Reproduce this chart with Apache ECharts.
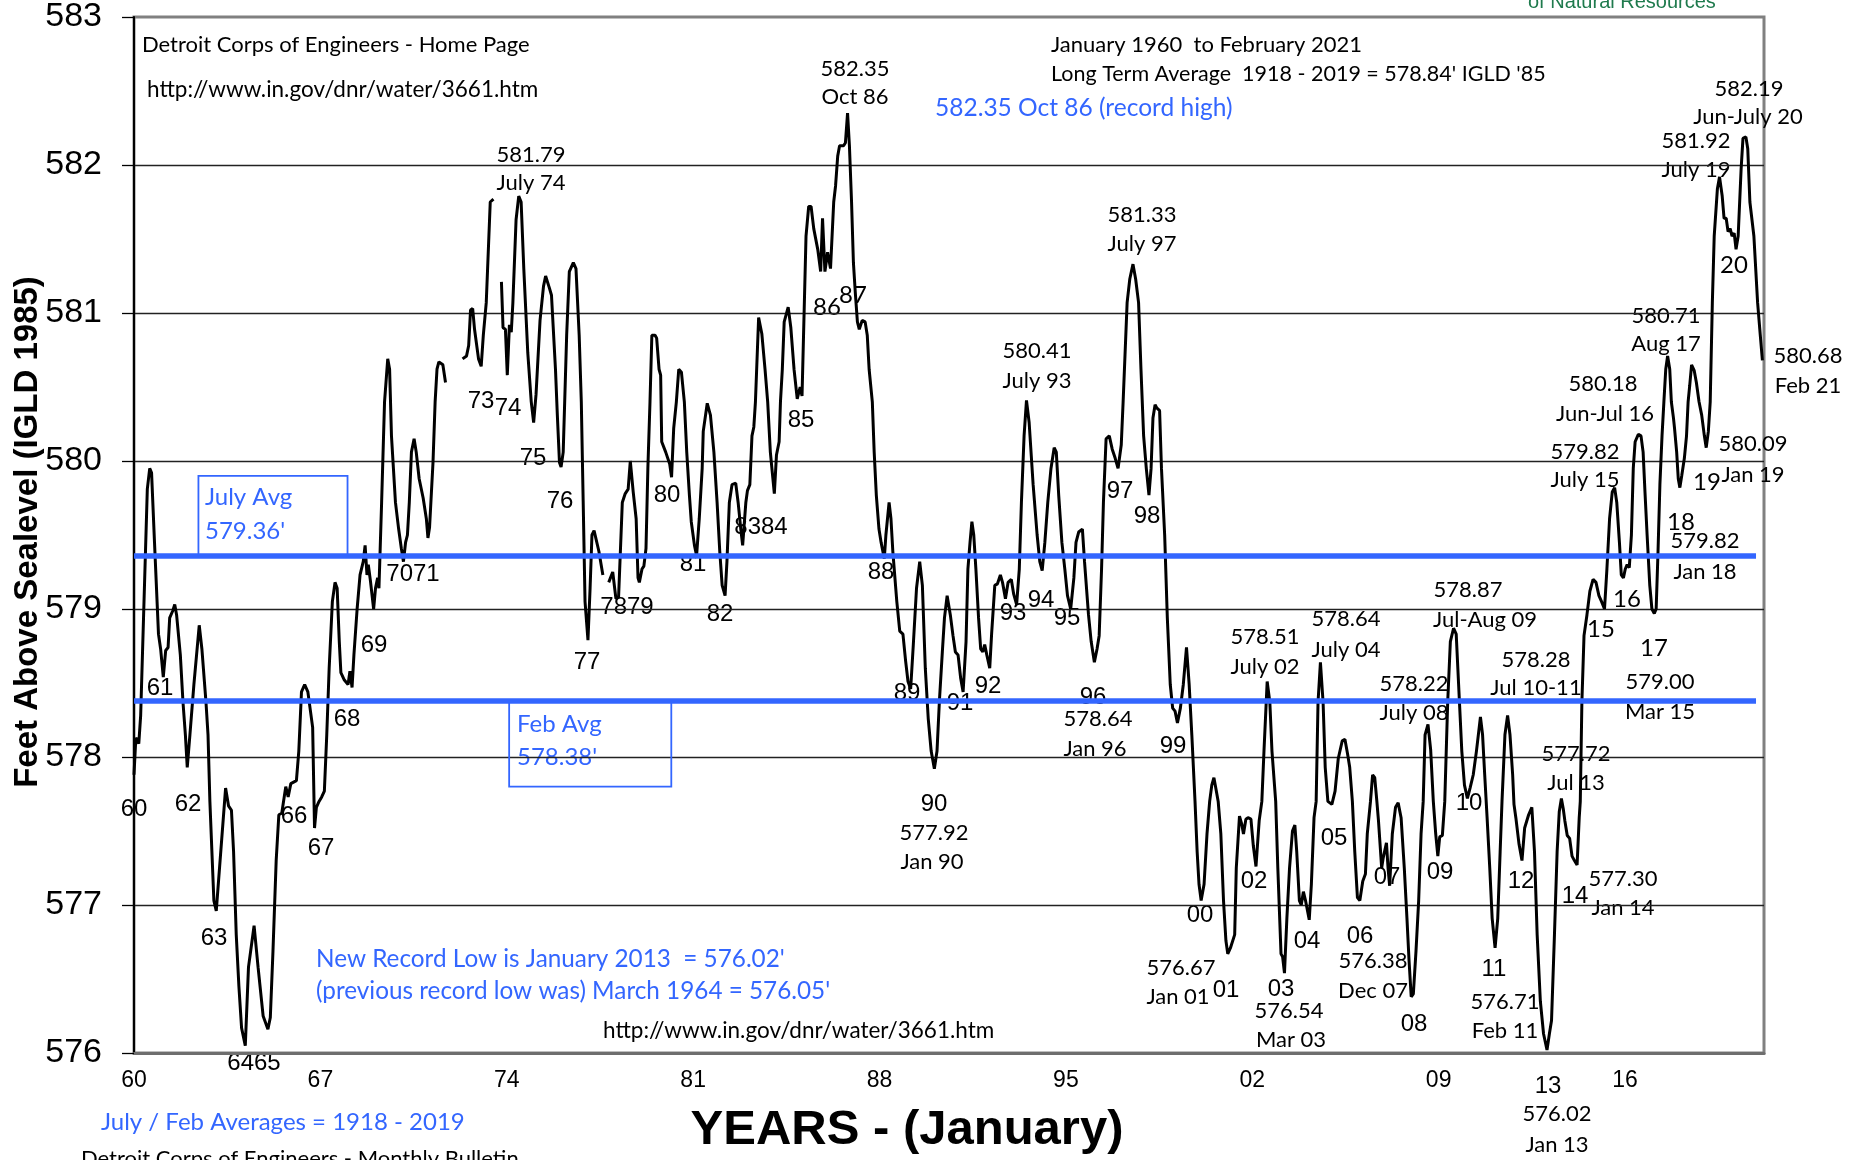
<!DOCTYPE html>
<html><head><meta charset="utf-8">
<script src="https://cdn.jsdelivr.net/npm/echarts@6/dist/echarts.min.js"></script>
<style>html,body{margin:0;padding:0;background:#fff}#c{width:1860px;height:1160px}</style>
</head><body><div id="c"></div>
<script>
// Lake level, feet above sea level (IGLD 1985); [decimal year, level], null = gap in record
const levels1960s = [
[1960.00,577.88],[1960.07,578.13],[1960.18,578.09],[1960.25,578.28],[1960.50,579.81],[1960.59,579.95],[1960.66,579.92],
[1960.77,579.45],[1960.92,578.83],[1961.00,578.73],[1961.10,578.54],[1961.19,578.72],[1961.28,578.74],[1961.34,578.94],
[1961.46,578.99],[1961.53,579.03],[1961.60,578.96],[1961.74,578.69],[1961.84,578.37],[1961.93,578.15],[1962.00,577.93],
[1962.10,578.15],[1962.25,578.49],[1962.45,578.89],[1962.55,578.73],[1962.70,578.38],[1962.78,578.15],[1962.85,577.70],
[1963.00,577.03],[1963.09,576.96],[1963.44,577.79],[1963.55,577.67],[1963.66,577.64],[1963.74,577.36],[1963.84,576.80],
[1963.94,576.45],[1964.04,576.17],[1964.18,576.05],[1964.30,576.58],[1964.51,576.86],[1964.66,576.58],[1964.85,576.25],
[1965.03,576.16],[1965.12,576.24],[1965.22,576.69],[1965.34,577.30],[1965.44,577.61],[1965.55,577.62],[1965.70,577.80],
[1965.79,577.73],[1965.89,577.82],[1965.96,577.83],[1966.10,577.84],[1966.19,578.04],[1966.29,578.44],[1966.41,578.49],
[1966.53,578.44],[1966.71,578.20],[1966.78,577.52],[1966.85,577.66],[1966.95,577.70],[1967.05,577.73],[1967.15,577.77],
[1967.24,578.15],[1967.33,578.60],[1967.45,579.05],[1967.55,579.18],[1967.63,579.14],[1967.71,578.78],[1967.77,578.57],
[1967.90,578.52],[1968.04,578.49],[1968.11,578.58],[1968.19,578.47],[1968.26,578.69],[1968.38,579.00],[1968.49,579.23],
[1968.61,579.32],[1968.68,579.43],[1968.75,579.23],[1968.80,579.30],[1968.88,579.19],[1969.00,579.00],[1969.07,579.14],
[1969.15,579.21],[1969.20,579.14],[1969.30,579.72],[1969.41,580.40],[1969.53,580.69],[1969.60,580.62],[1969.67,580.17],
[1969.82,579.72],[1969.94,579.54]
];
const levels1970s = [
[1970.04,579.41],[1970.12,579.32],[1970.20,579.45],[1970.27,579.50],[1970.34,579.72],[1970.42,580.06],[1970.52,580.15],
[1970.60,580.06],[1970.71,579.88],[1970.86,579.75],[1970.98,579.61],[1971.04,579.48],[1971.10,579.55],[1971.23,579.99],
[1971.31,580.40],[1971.38,580.62],[1971.45,580.67],[1971.60,580.65],[1971.70,580.53],[1972.00,null],
[1972.34,580.69],[1972.49,580.71],[1972.57,580.78],[1972.64,581.02],[1972.72,581.03],[1972.79,580.89],[1972.86,580.88],
[1972.94,580.69],[1973.04,580.64],[1973.12,580.85],[1973.23,581.07],[1973.38,581.75],[1973.50,581.77],[1973.65,null],
[1973.80,581.21],[1973.86,580.90],[1973.95,580.89],[1974.02,580.58],[1974.10,580.92],[1974.17,580.87],[1974.23,581.07],
[1974.35,581.63],[1974.45,581.79],[1974.54,581.75],[1974.64,581.30],[1974.79,580.73],[1974.92,580.40],[1975.01,580.26],
[1975.10,580.45],[1975.25,580.95],[1975.38,581.18],[1975.46,581.25],[1975.60,581.17],[1975.68,581.12],[1975.83,580.62],
[1975.90,580.31],[1975.98,579.99],[1976.04,579.96],[1976.12,580.06],[1976.25,580.85],[1976.35,581.28],[1976.50,581.34],
[1976.60,581.30],[1976.72,580.85],[1976.80,580.40],[1976.87,579.73],[1976.94,579.05],[1977.05,578.79],[1977.13,579.14],
[1977.20,579.50],[1977.28,579.53],[1977.46,579.39],[1977.61,579.23],[1977.72,null],
[1977.83,579.18],[1977.98,579.25],[1978.10,579.07],[1978.20,579.08],[1978.27,579.09],[1978.34,579.72],[1978.45,579.78],
[1978.56,579.81],[1978.64,580.00],[1978.70,580.00],[1978.75,579.79],[1978.86,579.61],[1978.93,579.21],[1978.98,579.18],
[1979.08,579.27],[1979.15,579.29],[1979.23,579.41],[1979.30,579.95],[1979.38,580.40],[1979.45,580.85],[1979.57,580.85],
[1979.63,580.83],[1979.72,580.62],[1979.78,580.58],[1979.82,580.13],[1979.97,580.06]
];
const levels1980s = [
[1980.12,579.98],[1980.19,579.89],[1980.27,580.22],[1980.37,580.40],[1980.46,580.62],[1980.56,580.60],[1980.67,580.40],
[1980.76,580.06],[1980.86,579.77],[1980.93,579.59],[1981.05,579.43],[1981.13,579.36],[1981.23,579.61],[1981.34,579.95],
[1981.38,580.20],[1981.45,580.20],[1981.53,580.39],[1981.65,580.31],[1981.71,580.30],[1981.78,580.06],[1981.90,579.72],
[1982.00,579.39],[1982.09,579.16],[1982.20,579.09],[1982.27,579.32],[1982.36,579.72],[1982.46,579.84],[1982.60,579.85],
[1982.69,579.72],[1982.79,579.54],[1982.86,579.43],[1982.98,579.72],[1983.04,579.80],[1983.13,579.84],[1983.21,580.17],
[1983.28,580.23],[1983.34,580.40],[1983.46,580.97],[1983.58,580.86],[1983.70,580.62],[1983.80,580.40],[1983.90,580.06],
[1984.05,579.78],[1984.13,580.04],[1984.23,580.13],[1984.28,580.40],[1984.35,580.62],[1984.42,580.94],[1984.57,581.04],
[1984.67,580.90],[1984.79,580.62],[1984.91,580.42],[1985.02,580.50],[1985.09,580.44],[1985.24,581.52],[1985.34,581.72],
[1985.43,581.72],[1985.53,581.57],[1985.68,581.43],[1985.79,581.28],[1985.86,581.64],[1985.95,581.28],[1986.05,581.41],
[1986.16,581.30],[1986.28,581.75],[1986.35,581.86],[1986.43,582.06],[1986.50,582.13],[1986.65,582.13],[1986.72,582.15],
[1986.80,582.35],[1986.87,582.13],[1986.95,581.75],[1987.02,581.34],[1987.09,581.14],[1987.17,580.94],[1987.24,580.89],
[1987.35,580.95],[1987.46,580.94],[1987.54,580.85],[1987.61,580.62],[1987.73,580.40],[1987.80,580.06],[1987.88,579.77],
[1987.98,579.54],[1988.06,579.45],[1988.18,579.34],[1988.24,579.50],[1988.36,579.72],[1988.43,579.61],[1988.50,579.39],
[1988.65,579.05],[1988.76,578.85],[1988.88,578.83],[1988.98,578.65],[1989.07,578.51],[1989.17,578.46],[1989.27,578.76],
[1989.39,579.14],[1989.51,579.32],[1989.61,579.16],[1989.72,578.60],[1989.83,578.26],[1989.94,578.04]
];
const levels1990s = [
[1990.06,577.92],[1990.16,578.04],[1990.25,578.38],[1990.36,578.71],[1990.44,578.94],[1990.54,579.09],[1990.66,578.96],
[1990.76,578.82],[1990.85,578.71],[1990.95,578.69],[1991.05,578.53],[1991.14,578.44],[1991.25,578.78],[1991.32,579.27],
[1991.40,579.45],[1991.47,579.59],[1991.54,579.50],[1991.62,579.27],[1991.72,578.94],[1991.80,578.73],[1991.88,578.71],
[1991.95,578.76],[1992.03,578.69],[1992.14,578.60],[1992.21,578.83],[1992.33,579.16],[1992.43,579.17],[1992.54,579.23],
[1992.62,579.18],[1992.73,579.07],[1992.83,579.18],[1992.95,579.20],[1993.04,579.10],[1993.15,579.03],[1993.25,579.27],
[1993.33,579.72],[1993.43,580.17],[1993.52,580.41],[1993.62,580.26],[1993.77,579.84],[1993.92,579.50],[1994.02,579.32],
[1994.11,579.26],[1994.21,579.45],[1994.32,579.72],[1994.44,579.95],[1994.56,580.09],[1994.64,580.06],[1994.73,579.77],
[1994.85,579.45],[1994.96,579.27],[1995.06,579.09],[1995.18,579.00],[1995.30,579.21],[1995.38,579.45],[1995.48,579.52],
[1995.55,579.52],[1995.62,579.54],[1995.70,579.32],[1995.85,578.96],[1995.95,578.78],[1996.07,578.64],[1996.17,578.73],
[1996.25,578.82],[1996.34,579.27],[1996.41,579.72],[1996.51,580.15],[1996.63,580.17],[1996.74,580.08],[1996.85,580.02],
[1996.96,579.95],[1997.08,580.11],[1997.15,580.40],[1997.30,581.07],[1997.40,581.23],[1997.52,581.33],[1997.62,581.23],
[1997.73,581.07],[1997.82,580.62],[1997.92,580.17],[1998.02,579.95],[1998.12,579.77],[1998.20,579.95],[1998.27,580.29],
[1998.35,580.38],[1998.41,580.36],[1998.52,580.34],[1998.59,579.95],[1998.71,579.50],[1998.81,578.94],[1998.92,578.49],
[1999.01,578.33],[1999.10,578.31],[1999.19,578.23],[1999.30,578.33],[1999.41,578.49],[1999.53,578.74],[1999.63,578.49],
[1999.73,578.15],[1999.85,577.70],[1999.93,577.36]
];
const levels2000s = [
[2000.00,577.14],[2000.08,577.03],[2000.19,577.14],[2000.30,577.48],[2000.40,577.70],[2000.48,577.81],[2000.56,577.86],
[2000.63,577.79],[2000.72,577.70],[2000.82,577.48],[2000.92,577.03],[2001.01,576.76],[2001.08,576.67],[2001.18,576.71],
[2001.34,576.80],[2001.40,577.25],[2001.52,577.60],[2001.60,577.55],[2001.67,577.48],[2001.76,577.58],[2001.84,577.59],
[2001.95,577.58],[2002.04,577.40],[2002.14,577.26],[2002.26,577.57],[2002.36,577.70],[2002.44,578.04],[2002.56,578.51],
[2002.66,578.37],[2002.74,578.04],[2002.88,577.70],[2002.96,577.25],[2003.08,576.67],[2003.14,576.65],[2003.21,576.54],
[2003.30,576.91],[2003.40,577.25],[2003.51,577.50],[2003.60,577.54],[2003.67,577.36],[2003.77,577.03],[2003.84,577.00],
[2003.92,577.09],[2004.00,577.03],[2004.14,576.90],[2004.22,577.14],[2004.32,577.59],[2004.40,577.70],[2004.47,578.37],
[2004.56,578.64],[2004.66,578.37],[2004.74,577.93],[2004.84,577.70],[2004.99,577.68],[2005.11,577.77],[2005.23,577.99],
[2005.38,578.11],[2005.48,578.12],[2005.58,578.02],[2005.66,577.93],[2005.76,577.70],[2005.85,577.36],[2005.95,577.05],
[2006.04,577.03],[2006.15,577.16],[2006.25,577.21],[2006.32,577.48],[2006.44,577.70],[2006.52,577.88],[2006.60,577.86],
[2006.68,577.70],[2006.74,577.57],[2006.86,577.25],[2006.92,577.32],[2007.04,577.42],[2007.10,577.25],[2007.16,577.13],
[2007.26,577.48],[2007.38,577.66],[2007.48,577.69],[2007.59,577.59],[2007.71,577.25],[2007.81,576.91],[2007.89,576.62],
[2007.97,576.38],[2008.05,576.40],[2008.15,576.69],[2008.25,577.03],[2008.34,577.48],[2008.42,577.70],[2008.49,578.15],
[2008.60,578.22],[2008.70,578.05],[2008.80,577.70],[2008.89,577.48],[2008.97,577.33],[2009.04,577.46],[2009.14,577.47],
[2009.23,577.70],[2009.34,578.37],[2009.44,578.78],[2009.56,578.87],[2009.66,578.83],[2009.75,578.49],[2009.87,578.04],
[2009.97,577.81]
];
const levels2010s = [
[2010.08,577.72],[2010.18,577.79],[2010.30,577.88],[2010.42,578.04],[2010.57,578.27],[2010.65,578.15],[2010.73,577.88],
[2010.82,577.59],[2010.92,577.25],[2011.01,576.91],[2011.12,576.71],[2011.22,576.91],[2011.31,577.36],[2011.38,577.70],
[2011.49,578.15],[2011.59,578.28],[2011.68,578.15],[2011.78,577.88],[2011.83,577.68],[2011.90,577.59],[2012.02,577.41],
[2012.13,577.30],[2012.23,577.52],[2012.38,577.61],[2012.50,577.66],[2012.60,577.36],[2012.70,576.80],[2012.82,576.35],
[2012.94,576.13],[2013.07,576.02],[2013.16,576.13],[2013.24,576.22],[2013.35,576.80],[2013.45,577.36],[2013.53,577.63],
[2013.61,577.72],[2013.68,577.65],[2013.74,577.57],[2013.83,577.47],[2013.92,577.45],[2014.01,577.33],[2014.10,577.30],
[2014.20,577.27],[2014.28,577.59],[2014.32,577.70],[2014.38,578.37],[2014.46,578.82],[2014.57,578.96],[2014.68,579.12],
[2014.80,579.20],[2014.91,579.18],[2015.02,579.09],[2015.12,579.05],[2015.23,579.00],[2015.32,579.27],[2015.42,579.61],
[2015.52,579.79],[2015.61,579.82],[2015.69,579.72],[2015.79,579.45],[2015.86,579.23],[2015.94,579.21],[2016.01,579.27],
[2016.08,579.30],[2016.16,579.28],[2016.24,579.50],[2016.31,579.95],[2016.38,580.13],[2016.50,580.18],[2016.60,580.17],
[2016.68,580.06],[2016.75,579.79],[2016.83,579.50],[2016.93,579.16],[2017.01,579.00],[2017.10,578.97],[2017.17,579.00],
[2017.24,579.39],[2017.31,579.84],[2017.39,580.17],[2017.46,580.40],[2017.53,580.62],[2017.60,580.71],[2017.68,580.62],
[2017.74,580.40],[2017.82,580.29],[2017.86,580.22],[2017.94,580.06],[2018.00,579.88],[2018.06,579.82],[2018.13,579.90],
[2018.23,580.02],[2018.31,580.17],[2018.37,580.40],[2018.43,580.51],[2018.50,580.65],[2018.60,580.61],[2018.68,580.53],
[2018.78,580.40],[2018.88,580.31],[2018.98,580.17],[2019.05,580.09],[2019.13,580.20],[2019.20,580.40],[2019.28,581.07],
[2019.35,581.52],[2019.47,581.84],[2019.55,581.92],[2019.65,581.79],[2019.72,581.64],[2019.80,581.64],[2019.87,581.55],
[2019.95,581.57]
];
const levels2020s = [
[2020.02,581.52],[2020.10,581.54],[2020.17,581.43],[2020.25,581.52],[2020.36,581.97],[2020.43,582.18],[2020.54,582.19],
[2020.61,582.11],[2020.69,581.75],[2020.84,581.52],[2020.98,581.07],[2021.08,580.85],[2021.16,580.68]
];
const julyAvg = 579.36;
const febAvg = 578.38;
const xTickLabels = ['60','67','74','81','88','95','02','09','16'];
const yTickLabels = ['576','577','578','579','580','581','582','583'];

// ---- annotation texts (pixel layout) ----
const BLUE = '#3366ff';
const LATO = 'Lato, "Open Sans", sans-serif';
const ARIAL = '"Liberation Sans", Arial, sans-serif';

const calloutTexts = [
 ['581.79',531,155],['July 74',531,183],
 ['582.35',855,69],['Oct 86',855,97],
 ['580.41',1037,351],['July 93',1037,381],
 ['581.33',1142,215],['July 97',1142,244],
 ['578.64',1098,719],['Jan 96',1095,749],
 ['577.92',934,833],['Jan 90',932,862],
 ['576.67',1181,968],['Jan 01',1178,997],
 ['576.54',1289,1011],['Mar 03',1291,1040],
 ['576.38',1373,961],['Dec 07',1373,991],
 ['576.71',1505,1002],['Feb 11',1505,1031],
 ['576.02',1557,1114],['Jan 13',1557,1145],
 ['578.51',1265,637],['July 02',1265,667],
 ['578.64',1346,619],['July 04',1346,650],
 ['578.22',1414,684],['July 08',1414,713],
 ['578.87',1468,590],['Jul-Aug 09',1485,620],
 ['578.28',1536,660],['Jul 10-11',1536,688],
 ['577.72',1576,754],['Jul 13',1576,783],
 ['577.30',1623,879],['Jan 14',1623,908],
 ['579.00',1660,682],['Mar 15',1660,712],
 ['579.82',1585,452],['July 15',1585,480],
 ['580.18',1603,384],['Jun-Jul 16',1605,414],
 ['580.71',1666,316],['Aug 17',1666,344],
 ['579.82',1705,541],['Jan 18',1705,572],
 ['580.09',1753,444],['Jan 19',1753,475],
 ['581.92',1696,141],['July 19',1696,170],
 ['582.19',1749,89],['Jun-July 20',1748,117],
 ['580.68',1808,356],['Feb 21',1808,386]
];
const yearMarksSans = [
 ['60',134,809],['61',160,688],['62',188,804],['63',214,938],['6465',254,1063],['66',294,816],['67',321,848],
 ['68',347,719],['69',374,645],['7071',413,574],['73',481,401],['74',508,408],['75',533,458],['76',560,501],
 ['77',587,662],['7879',627,607],['80',667,495],['81',693,564],['82',720,614],['8384',761,527],['85',801,420],
 ['88',881,572],['89',907,693],['90',934,804],['91',960,703],['92',988,686],['93',1013,613],['94',1041,600],
 ['95',1067,618],['96',1093,697],['97',1120,491],['98',1147,516],['99',1173,746],['00',1200,915],['01',1226,990],
 ['02',1254,881],['03',1281,989],['04',1307,941],['05',1334,838],['06',1360,936],['07',1387,877],['08',1414,1024],
 ['09',1440,872],['10',1469,803],['11',1494,969],['12',1521,881],['13',1548,1086],['14',1575,896]
];
const yearMarksLato = [
 ['86',827,307],['87',853,295],['15',1601,629],['16',1627,599],['17',1654,648],['18',1681,522],['19',1707,482],['20',1734,265]
];
const leftTexts = [ // [text, x, y, colour, size]
 ['Detroit Corps of Engineers - Home Page',142,45,'#000',22],
 ['http://www.in.gov/dnr/water/3661.htm',147,90,'#000',22.5],
 ['January 1960  to February 2021',1051,45,'#000',22],
 ["Long Term Average  1918 - 2019 = 578.84' IGLD '85",1051,74,'#000',21.5],
 ['582.35 Oct 86 (record high)',935,108,BLUE,24.5],
 ["New Record Low is January 2013  = 576.02'",316,959,BLUE,24.3],
 ["(previous record low was) March 1964 = 576.05'",316,991,BLUE,24.3],
 ['http://www.in.gov/dnr/water/3661.htm',603,1031,'#000',22.5],
 ['July / Feb Averages = 1918 - 2019',101,1122,BLUE,24],
 ['Detroit Corps of Engineers - Monthly Bulletin',81,1159,'#000',22],
 ['July Avg',205,497,BLUE,24],
 ["579.36'",205,531,BLUE,24],
 ['Feb Avg',517,724,BLUE,24],
 ["578.38'",517,757,BLUE,24]
];

function txt(t, x, y, fill, font, align) {
  return { type: 'text', x: x, y: y, silent: true,
    style: { text: t, fill: fill, font: font, align: align, verticalAlign: 'middle',
             textAlign: align, textVerticalAlign: 'middle' } };
}
const graphics = [];
calloutTexts.forEach(a => graphics.push(txt(a[0], a[1], a[2], '#000', '22px ' + LATO, 'center')));
yearMarksSans.forEach(a => graphics.push(txt(a[0], a[1], a[2], '#000', '24px ' + ARIAL, 'center')));
yearMarksLato.forEach(a => graphics.push(txt(a[0], a[1], a[2], '#000', '24px ' + LATO, 'center')));
leftTexts.forEach(a => graphics.push(txt(a[0], a[1], a[2], a[3], a[4] + 'px ' + LATO, 'left')));
graphics.push(txt('of Natural Resources', 1528, 2, '#1f7a4d', '20px ' + ARIAL, 'left'));
graphics.push(txt('YEARS - (January)', 907, 1130, '#000', 'bold 49px ' + ARIAL, 'center'));
const yName = txt('Feet Above Sealevel (IGLD 1985)', 0, 0, '#000', 'bold 33px ' + ARIAL, 'center');
yName.x = 28; yName.y = 532; yName.rotation = Math.PI / 2;
graphics.push(yName);

const seriesData = [].concat(levels1960s, levels1970s, levels1980s, levels1990s, levels2000s, levels2010s, levels2020s)
  .map(p => [p[0], p[1] === null ? '-' : p[1]]);

const chart = echarts.init(document.getElementById('c'), null, { renderer: 'canvas' });
chart.setOption({
  animation: false,
  backgroundColor: '#fff',
  grid: { left: 134, right: 96, top: 14, bottom: 107, show: true, borderColor: '#808080', borderWidth: 3 },
  xAxis: {
    type: 'value', min: 1960, max: 2021.22, interval: 7,
    axisLine: { show: true, onZero: false, lineStyle: { color: '#6e6e6e', width: 3 } },
    axisTick: { show: false },
    splitLine: { show: false },
    axisLabel: {
      showMaxLabel: false, margin: 16, color: '#000', fontSize: 23, fontFamily: ARIAL,
      formatter: v => xTickLabels[Math.round((v - 1960) / 7)] || ''
    }
  },
  yAxis: {
    type: 'value', min: 576, max: 583, interval: 1,
    axisLine: { show: true, lineStyle: { color: '#000', width: 2 } },
    axisTick: { show: true, inside: false, length: 12, lineStyle: { color: '#000', width: 1.3 } },
    splitLine: { show: true, showMinLine: false, showMaxLine: false, lineStyle: { color: '#222', width: 1.3 } },
    axisLabel: {
      margin: 32, color: '#000', fontSize: 34, fontFamily: ARIAL,
      formatter: v => yTickLabels[Math.round(v - 576)]
    }
  },
  graphic: graphics,
  series: [{
    type: 'line', data: seriesData, showSymbol: false, symbol: 'none', connectNulls: false,
    lineStyle: { color: '#000', width: 3 }, z: 3,
    markLine: {
      silent: true, symbol: 'none', label: { show: false },
      lineStyle: { color: BLUE, width: 5.5, type: 'solid' },
      data: [
        [{ coord: [1960, julyAvg] }, { coord: [2020.92, julyAvg] }],
        [{ coord: [1960, febAvg] }, { coord: [2020.92, febAvg] }]
      ]
    },
    markArea: {
      silent: true, label: { show: false },
      itemStyle: { color: 'rgba(0,0,0,0)', borderColor: BLUE, borderWidth: 1.8 },
      data: [
        [{ coord: [1962.42, 579.90] }, { coord: [1968.02, julyAvg] }],
        [{ coord: [1974.09, febAvg] }, { coord: [1980.18, 577.80] }]
      ]
    }
  }]
});
</script>
</body></html>
